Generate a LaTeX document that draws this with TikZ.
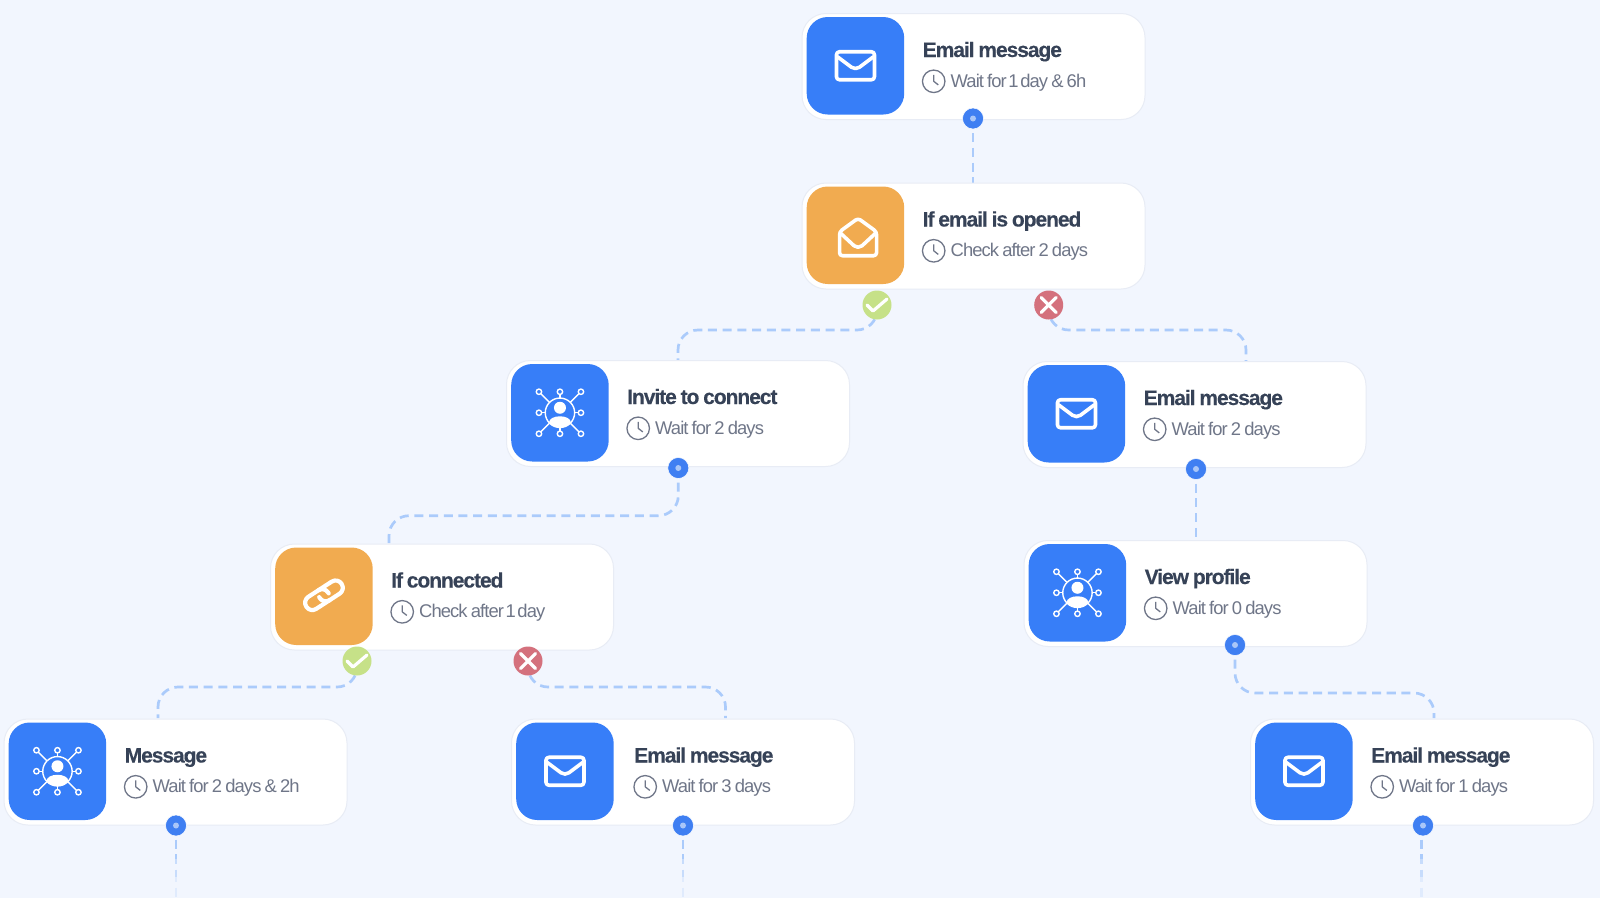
\documentclass[tikz,border=0pt]{standalone}
\usepackage{fontspec}
\setmainfont{Liberation Sans}
\newfontfamily\titlefont[LetterSpace=-5,WordSpace=0.8,FakeBold=0.25]{Liberation Sans Bold}
\newfontfamily\subfont[LetterSpace=-5,WordSpace=0.75]{Liberation Sans}
\definecolor{bgc}{HTML}{F2F6FE}
\definecolor{bluec}{HTML}{377EF8}
\definecolor{orangec}{HTML}{F1AB50}
\definecolor{greenc}{HTML}{C6E188}
\definecolor{redc}{HTML}{D4717D}
\definecolor{linec}{HTML}{ABCBFB}
\definecolor{titlec}{HTML}{364257}
\definecolor{subc}{HTML}{6F7688}
\definecolor{borderc}{HTML}{E8ECF5}
\definecolor{dotc}{HTML}{3F7FF2}
\definecolor{dotin}{HTML}{A9C6F8}
\tikzset{
  card/.style={draw=borderc,line width=1pt,fill=white,rounded corners=24pt,minimum width=343pt,minimum height=106pt,inner sep=0pt,anchor=north west},
  iconbox/.style={rounded corners=21pt,minimum size=97.5pt,inner sep=0pt,anchor=north west},
  titletext/.style={anchor=base west,inner sep=0pt,text=titlec,font=\fontsize{21}{24}\selectfont\titlefont},
  subtext/.style={anchor=base west,inner sep=0pt,text=subc,font=\fontsize{18.4}{22}\selectfont\subfont},
  clockface/.style={circle,draw=subc,line width=1.3pt,minimum size=22.5pt,inner sep=0pt},
  conn/.style={draw=linec,line width=2.7pt,dash pattern=on 9pt off 5.7pt},
  dotnode/.style={circle,fill=dotc,draw=white,line width=.5pt,minimum size=21pt,inner sep=0pt},
  innerdot/.style={circle,fill=dotin,minimum size=6pt,inner sep=0pt},
  oknode/.style={circle,fill=greenc,minimum size=29pt,inner sep=0pt},
  nonode/.style={circle,fill=redc,minimum size=29pt,inner sep=0pt},
  markline/.style={draw=white,line width=3.2pt,line cap=round,line join=round},
  iconline/.style={draw=white,line width=3.6pt,line join=round,line cap=round},
  netline/.style={draw=white,line width=1.4pt},
}
% icons: drawn around the centre of the named icon box
\newcommand{\icEnv}[1]{\begin{scope}[shift={(#1)}]
  \draw[iconline,rounded corners=3pt] (-19,-14) rectangle (19,14);
  \draw[iconline] (-18,-9) -- (-4,1.5) .. controls (-1.5,3.2) and (1.5,3.2) .. (4,1.5) -- (18,-9);
\end{scope}}
\newcommand{\icOpen}[1]{\begin{scope}[shift={(#1)},xshift=2.6pt]
  \draw[iconline,rounded corners=3pt] (-18.5,-3.5) -- (0,-17) -- (18.5,-3.5) -- (18.5,20.5) -- (-18.5,20.5) -- cycle;
  \draw[iconline] (-18,-2.5) -- (-4,10.5) .. controls (-1.5,12.5) and (1.5,12.5) .. (4,10.5) -- (18,-2.5);
\end{scope}}
\newcommand{\icNet}[1]{\begin{scope}[shift={(#1)}]
  \draw[netline] (0,0) circle (14.7);
  \fill[white] (0,-5) circle (6);
  \begin{scope}
    \clip (0,0) circle (14.7);
    \fill[white] (0,9.4) ellipse (10.8 and 5.9);
  \end{scope}
  \foreach \x/\y/\a/\b in {21/21/.495/.91,-21/21/.495/.91,21/-21/.495/.91,-21/-21/.495/.91,0/21/.7/.87,0/-21/.7/.87,21/0/.7/.87,-21/0/.7/.87}{
    \draw[netline] ({\x*\a},{\y*\a}) -- ({\x*\b},{\y*\b});
    \draw[netline] (\x,\y) circle (2.7);
  }
\end{scope}}
\newcommand{\icLink}[1]{\begin{scope}[shift={(#1)},yshift=1pt,rotate=33]
  \draw[iconline,line width=4.2pt,rounded corners=7pt] (2,7.2) -- (-21,7.2) -- (-21,-7.2) -- (5,-7.2) -- (5,1);
  \draw[iconline,line width=4.2pt,rounded corners=7pt] (-2,-7.2) -- (21,-7.2) -- (21,7.2) -- (-5,7.2) -- (-5,-1);
\end{scope}}
\def\tx{0}
% \card{name}{x}{y}{colour}{icon}{title}{subtitle}
\newcommand{\card}[7]{
  \node[card] (#1) at (#2,#3) {};
  \node[iconbox,fill=#4] (#1-icon) at ({#2+5},{#3+3.8}) {};
  #5{#1-icon.center}
  \node[titletext] (#1-title) at ({#2+121+\tx},{#3+44}) {#6};
  \node[clockface] (#1-clock) at ({#2+132.2+\tx},{#3+68.3}) {};
  \draw[draw=subc,line width=1.3pt,line join=round] ($(#1-clock.center)+(0,-6.5)$) -- (#1-clock.center) -- ($(#1-clock.center)+(4.6,3.6)$);
  \node[subtext] (#1-sub) at ({#2+149+\tx},{#3+74.3}) {#7};
}
\newcommand{\flowdot}[3]{
  \node[dotnode] (#1) at (#2,#3) {};
  \node[innerdot] (#1-in) at (#1.center) {};
}
\usetikzlibrary{calc}
\begin{document}
\begin{tikzpicture}[x=1pt,y=-1pt]
\useasboundingbox (0,0) rectangle (1600,898);
\fill[bgc] (0,0) rectangle (1600,898);
% named points
\coordinate (d1end) at (973,183);
\coordinate (okAend) at (678,360);
\coordinate (noAend) at (1246,361);
\coordinate (d3end) at (389,544);
\coordinate (d6end) at (1196,540);
\coordinate (okBend) at (158,718);
\coordinate (noBend) at (725.5,718);
\coordinate (d7end) at (1434,718);
\foreach \n/\X in {a/176,b/683,c/1421.5}{
  \coordinate (f\n0) at (\X,825);
  \coordinate (f\n1) at (\X,859);
  \coordinate (f\n2) at (\X,877);
  \coordinate (f\n3) at (\X,898);
}
% ends of connectors
\coordinate (dot1) at (973,118.5);
\coordinate (okA) at (877,305);
\coordinate (noA) at (1048.7,305);
\coordinate (dot3) at (678.3,468);
\coordinate (dot6) at (1196,469);
\coordinate (dot7) at (1235,645);
\coordinate (okB) at (357,661);
\coordinate (noB) at (528,661);
% connectors
\draw[conn] (dot1) -- (d1end);
\draw[conn,rounded corners=20pt] (okA) -- (okA |- 0,330) -- (okAend |- 0,330) -- (okAend);
\draw[conn,rounded corners=20pt] (noA) -- (noA |- 0,330) -- (noAend |- 0,330) -- (noAend);
\draw[conn,rounded corners=20pt] (dot3) -- (dot3 |- 0,515.7) -- (d3end |- 0,515.7) -- (d3end);
\draw[conn] (dot6) -- (d6end);
\draw[conn,rounded corners=20pt] (okB) -- (okB |- 0,687) -- (okBend |- 0,687) -- (okBend);
\draw[conn,rounded corners=20pt] (noB) -- (noB |- 0,687) -- (noBend |- 0,687) -- (noBend);
\draw[conn,rounded corners=20pt] (dot7) -- (dot7 |- 0,693) -- (d7end |- 0,693) -- (d7end);
\foreach \n in {a,b,c}{
  \draw[conn] (f\n0) -- (f\n1);
  \draw[conn,draw=linec!60!bgc,dash phase=4pt] (f\n1) -- (f\n2);
  \draw[conn,draw=linec!25!bgc,dash phase=4pt] (f\n2) -- (f\n3);
}
% cards
\card{c1}{801.5}{13}{bluec}{\icEnv}{Email message}{Wait for\kern-1.5pt{} 1\kern-1.5pt{} day \& 6h}
\card{c2}{801.5}{182.5}{orangec}{\icOpen}{If email is opened}{Check after 2 days}
\card{c3}{506}{360}{bluec}{\icNet}{Invite to connect}{Wait for 2 days}
\card{c4}{270}{543.5}{orangec}{\icLink}{If connected}{Check after\kern-1.5pt{} 1\kern-1.5pt{} day}
\card{c5}{3.5}{718.5}{bluec}{\icNet}{Message}{Wait for 2 days \& 2h}
\card{c6}{1022.5}{361}{bluec}{\icEnv}{Email message}{Wait for 2 days}
\card{c7}{1023.5}{540}{bluec}{\icNet}{View profile}{Wait for 0 days}
\def\tx{2}
\card{c8}{511}{718.5}{bluec}{\icEnv}{Email message}{Wait for 3 days}
\def\tx{0}
\card{c9}{1250}{718.5}{bluec}{\icEnv}{Email message}{Wait for 1 days}
% dots
\flowdot{n1}{973}{118.5}
\flowdot{n3}{678.3}{468}
\flowdot{n6}{1196}{469}
\flowdot{n7}{1235}{645}
\flowdot{n5}{176}{825.5}
\flowdot{n8}{683}{825.5}
\flowdot{n9}{1423}{825.5}
% outcome marks
\foreach \nm/\X/\Y in {okM1/877/305,okM2/357/661}{
  \node[oknode] (\nm) at (\X,\Y) {};
  \draw[markline] ($(\nm.center)+(-10,0)$) -- ($(\nm.center)+(-4,6)$) -- ($(\nm.center)+(10,-6)$);
}
\foreach \nm/\X/\Y in {noM1/1048.7/305,noM2/528/661}{
  \node[nonode] (\nm) at (\X,\Y) {};
  \draw[markline] ($(\nm.center)+(-7.5,-7.5)$) -- ($(\nm.center)+(7.5,7.5)$);
  \draw[markline] ($(\nm.center)+(-7.5,7.5)$) -- ($(\nm.center)+(7.5,-7.5)$);
}
\end{tikzpicture}
\end{document}
